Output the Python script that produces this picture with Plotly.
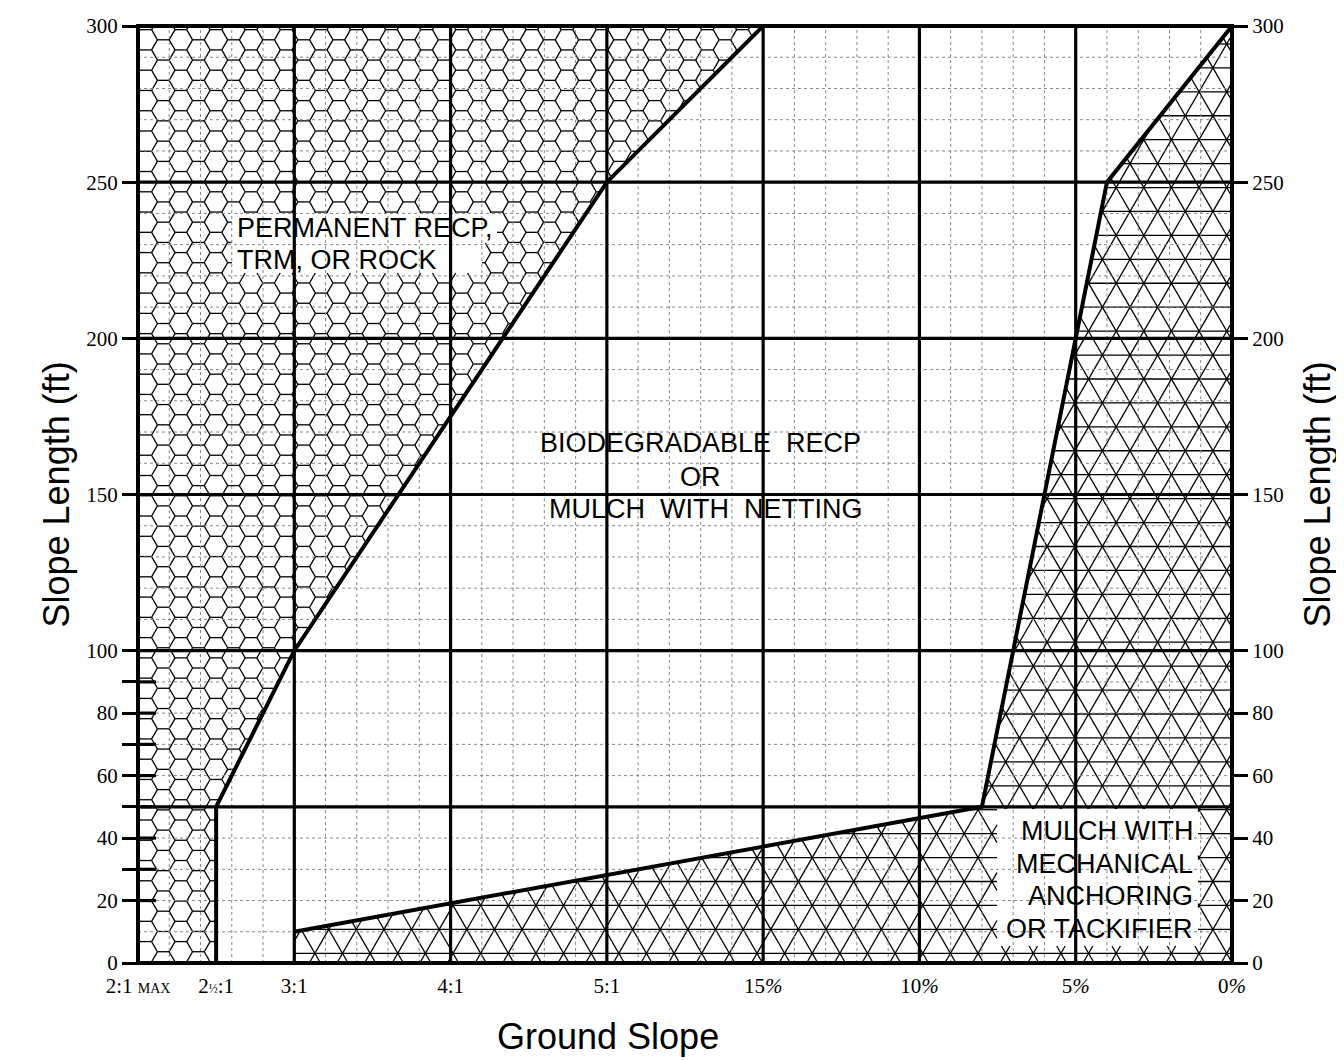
import plotly.graph_objects as go
import math

# ---------------- data ----------------
x_tick_pos = [0, 0.5, 1, 2, 3, 4, 5, 6, 7]
x_tick_text = ["2:1 <span style='font-size:14px'>MAX</span>",
               "2<span style='font-size:12px'>½</span>:1", "3:1", "4:1",
               "5:1", "15<i>%</i>", "10<i>%</i>", "5<i>%</i>", "0<i>%</i>"]
y_label_vals = [0, 20, 40, 60, 80, 100, 150, 200, 250, 300]
y_left_minor_ticks = [30, 50, 70, 90]
y_inner_ticks = [20, 30, 40, 50, 60, 70, 80, 90]
major_x = [1, 2, 3, 4, 5, 6]
major_y = [50, 100, 150, 200, 250]
minor_x = [i / 5 for i in range(0, 36) if i % 5 != 0]
minor_y = [v for v in range(10, 300, 10) if v % 50 != 0]

# permanent RECP / TRM / rock zone
perm_x = [0, 0.5, 0.5, 1, 3, 4, 0]
perm_y = [0, 0, 50, 100, 250, 300, 300]
perm_line_x = [0.5, 0.5, 1, 3, 4]
perm_line_y = [0, 50, 100, 250, 300]
# mulch with mechanical anchoring zone
mulch_x = [1, 1, 5.4, 6.2, 7, 7]
mulch_y = [0, 10, 50, 250, 300, 0]
mulch_line_x = [1, 5.4, 6.2, 7]
mulch_line_y = [10, 50, 250, 300]

# ---------------- layout geometry ----------------
OFF = 8  # page body margin
W, H = 1328, 1053
ML, MR, MT, MB = 130, 104, 18, 98
PW, PH = W - ML - MR, H - MT - MB
XMAX, YMAX = 7.0, 300.0


def xp(x):
    return OFF + ML + x / XMAX * PW


def yp(y):
    return OFF + MT + (1 - y / YMAX) * PH


def xd(px):
    return (px - OFF - ML) / PW * XMAX


def yd(py):
    return (1 - (py - OFF - MT) / PH) * YMAX


def xpaper(px):
    return (px - OFF - ML) / PW


def ypaper(py):
    return 1 - (py - OFF - MT) / PH


def cross(a, b):
    return a[0] * b[1] - a[1] * b[0]


def inside_poly(p, poly):
    x, y = p
    n = len(poly)
    c = False
    for i in range(n):
        x1, y1 = poly[i]
        x2, y2 = poly[(i + 1) % n]
        if (y1 > y) != (y2 > y):
            xi = x1 + (y - y1) * (x2 - x1) / (y2 - y1)
            if x < xi:
                c = not c
    return c


def in_rect(p, r):
    return r[0] <= p[0] <= r[1] and r[2] <= p[1] <= r[3]


def clip_segment(p0, p1, poly, holes):
    edges = []
    n = len(poly)
    for i in range(n):
        edges.append((poly[i], poly[(i + 1) % n]))
    for r in holes:
        c = [(r[0], r[2]), (r[1], r[2]), (r[1], r[3]), (r[0], r[3])]
        for i in range(4):
            edges.append((c[i], c[(i + 1) % 4]))
    d = (p1[0] - p0[0], p1[1] - p0[1])
    ts = [0.0, 1.0]
    for a, b in edges:
        e = (b[0] - a[0], b[1] - a[1])
        den = cross(d, e)
        if abs(den) < 1e-12:
            continue
        ap = (a[0] - p0[0], a[1] - p0[1])
        t = cross(ap, e) / den
        u = cross(ap, d) / den
        if 0 <= t <= 1 and -1e-9 <= u <= 1 + 1e-9:
            ts.append(t)
    ts = sorted(set(ts))
    pieces = []
    for t0, t1 in zip(ts[:-1], ts[1:]):
        if t1 - t0 < 1e-9:
            continue
        tm = (t0 + t1) / 2
        pm = (p0[0] + tm * d[0], p0[1] + tm * d[1])
        if inside_poly(pm, poly) and not any(in_rect(pm, r) for r in holes):
            if pieces and abs(pieces[-1][1] - t0) < 1e-9:
                pieces[-1] = (pieces[-1][0], t1)
            else:
                pieces.append((t0, t1))
    out = []
    for t0, t1 in pieces:
        out.append(((p0[0] + t0 * d[0], p0[1] + t0 * d[1]),
                    (p0[0] + t1 * d[0], p0[1] + t1 * d[1])))
    return out


def segs_to_xy(segs):
    xs, ys = [], []
    for a, b in segs:
        xs += [xd(a[0]), xd(b[0]), None]
        ys += [yd(a[1]), yd(b[1]), None]
    return xs, ys


# ---- hexagon texture for the permanent zone ----
perm_poly = [(xp(x), yp(y)) for x, y in zip(perm_x, perm_y)]
perm_holes = [(232, 497, 213, 243), (232, 482, 243, 273)]
s = 11.7
hh = s * math.sqrt(3)
hex_segs = []
cx0, cy0 = 163.3 - 1.5 * s * 2, 820.0
i = 0
cx = cx0
while cx < xp(4) + 2 * s:
    off = (hh / 2) if (i % 2) else 0.0
    cy = cy0 + off - hh * 50
    while cy < yp(0) + hh:
        if cy > yp(300) - hh:
            v0 = (cx + s, cy)
            v1 = (cx + s / 2, cy - hh / 2)
            v2 = (cx - s / 2, cy - hh / 2)
            v5 = (cx + s / 2, cy + hh / 2)
            for a, b in ((v1, v2), (v0, v1), (v5, v0)):
                hex_segs += clip_segment(a, b, perm_poly, perm_holes)
        cy += hh
    cx += 1.5 * s
    i += 1
hex_x, hex_y = segs_to_xy(hex_segs)

# ---- triangle texture for the mulch zone ----
mulch_poly = [(xp(x), yp(y)) for x, y in zip(mulch_x, mulch_y)]
mulch_holes = [(997, 1198, 809, 946)]
Ht = 23.93
a_side = Ht / math.sin(math.pi / 3)
y0t = 953.3
c0t = 1033.3
tri_segs = []
bx0, bx1, by0, by1 = xp(1) - 5, xp(7) + 5, yp(300) - 5, yp(0) + 5
for k in range(-60, 60):
    yy = y0t + k * Ht
    if by0 <= yy <= by1:
        tri_segs += clip_segment((bx0, yy), (bx1, yy), mulch_poly, mulch_holes)
r3 = math.sqrt(3)
for sign in (1, -1):
    for m in range(-80, 80):
        xc = c0t + m * a_side
        pa = (xc + sign * (by0 - y0t) / r3, by0)
        pb = (xc + sign * (by1 - y0t) / r3, by1)
        if max(pa[0], pb[0]) < bx0 or min(pa[0], pb[0]) > bx1:
            continue
        tri_segs += clip_segment(pa, pb, mulch_poly, mulch_holes)
tri_x, tri_y = segs_to_xy(tri_segs)


# ---- grid line helpers ----
def vlines(xs, y0=0, y1=300):
    X, Y = [], []
    for v in xs:
        X += [v, v, None]
        Y += [y0, y1, None]
    return X, Y


def hlines(ys, x0=0, x1=7):
    X, Y = [], []
    for v in ys:
        X += [x0, x1, None]
        Y += [v, v, None]
    return X, Y


mvx, mvy = vlines(minor_x)
mhx, mhy = hlines(minor_y)
Mvx, Mvy = vlines(major_x)
Mhx, Mhy = hlines(major_y)
tix, tiy = hlines(y_inner_ticks, 0, xd(xp(0) + 18))

fig = go.Figure()
fig.add_trace(go.Scatter(x=hex_x, y=hex_y, mode="lines",
                         line=dict(color="black", width=1.3), hoverinfo="skip"))
fig.add_trace(go.Scatter(x=tri_x, y=tri_y, mode="lines",
                         line=dict(color="black", width=1.3), hoverinfo="skip"))
fig.add_trace(go.Scatter(x=mvx + mhx, y=mvy + mhy, mode="lines",
                         line=dict(color="#888888", width=1, dash="dot"), hoverinfo="skip"))
fig.add_trace(go.Scatter(x=Mvx + Mhx, y=Mvy + Mhy, mode="lines",
                         line=dict(color="black", width=3.2), hoverinfo="skip"))
fig.add_trace(go.Scatter(x=tix, y=tiy, mode="lines",
                         line=dict(color="black", width=3.2), hoverinfo="skip"))
fig.add_trace(go.Scatter(x=perm_line_x, y=perm_line_y, mode="lines",
                         line=dict(color="black", width=4), hoverinfo="skip"))
fig.add_trace(go.Scatter(x=mulch_line_x, y=mulch_line_y, mode="lines",
                         line=dict(color="black", width=4), hoverinfo="skip"))
fig.add_trace(go.Scatter(x=[None], y=[None], yaxis="y2", mode="lines", hoverinfo="skip"))

sans = "Liberation Sans, Arial, sans-serif"
serif = "Liberation Serif, Times New Roman, serif"
ann = []


def txt(x, y, t, anchor="center", size=27):
    ann.append(dict(x=x, y=y, xref="x", yref="y", text=t, showarrow=False,
                    xanchor=anchor, yanchor="middle",
                    font=dict(family=sans, size=size, color="black")))


txt(xd(235), yd(228), "PERMANENT RECP,", "left")
txt(xd(235), yd(260), "TRM, OR ROCK", "left")
txt(xd(700), yd(443), "BIODEGRADABLE\u00a0\u00a0RECP")
txt(xd(700), yd(477), "OR")
txt(xd(705), yd(509), "MULCH\u00a0\u00a0WITH\u00a0\u00a0NETTING")
txt(xd(1195), yd(831), "MULCH WITH", "right")
txt(xd(1195), yd(864), "MECHANICAL", "right")
txt(xd(1195), yd(896), "ANCHORING", "right")
txt(xd(1195), yd(929), "OR TACKIFIER", "right")

for xpix in (56, 1317):
    ann.append(dict(x=xpaper(xpix), y=0.5, xref="paper", yref="paper",
                    text="Slope Length (ft)", textangle=-90, showarrow=False,
                    xanchor="center", yanchor="middle",
                    font=dict(family=sans, size=36, color="black")))
ann.append(dict(x=xpaper(608), y=ypaper(1036), xref="paper", yref="paper",
                text="Ground Slope", showarrow=False,
                xanchor="center", yanchor="middle",
                font=dict(family=sans, size=36, color="black")))

fig.update_layout(
    width=W, height=H,
    margin=dict(l=ML, r=MR, t=MT, b=MB, pad=0, autoexpand=False),
    paper_bgcolor="white", plot_bgcolor="white",
    showlegend=False,
    xaxis=dict(range=[0, XMAX], tickmode="array", tickvals=x_tick_pos,
               ticktext=x_tick_text, ticks="", showgrid=False, zeroline=False,
               showline=False, ticklabelstandoff=8, automargin=False,
               tickfont=dict(family=serif, size=21, color="black")),
    yaxis=dict(range=[0, YMAX], tickmode="array", tickvals=y_label_vals,
               ticktext=[str(v) for v in y_label_vals], ticks="outside",
               ticklen=15, tickwidth=3, tickcolor="black", showgrid=False,
               zeroline=False, showline=False, automargin=False,
               tickfont=dict(family=serif, size=21, color="black"),
               minor=dict(tickmode="array", tickvals=y_left_minor_ticks,
                          ticks="outside", ticklen=15, tickwidth=3,
                          tickcolor="black", showgrid=False)),
    yaxis2=dict(range=[0, YMAX], overlaying="y", side="right", tickmode="array",
                tickvals=y_label_vals, ticktext=[str(v) for v in y_label_vals],
                ticks="outside", ticklen=15, tickwidth=3, tickcolor="black",
                showgrid=False, zeroline=False, showline=False, automargin=False,
                tickfont=dict(family=serif, size=21, color="black")),
    shapes=[dict(type="rect", xref="paper", yref="paper", x0=0, x1=1, y0=0, y1=1,
                 line=dict(color="black", width=4), layer="above")],
    annotations=ann,
)
fig.write_html("out.html")
